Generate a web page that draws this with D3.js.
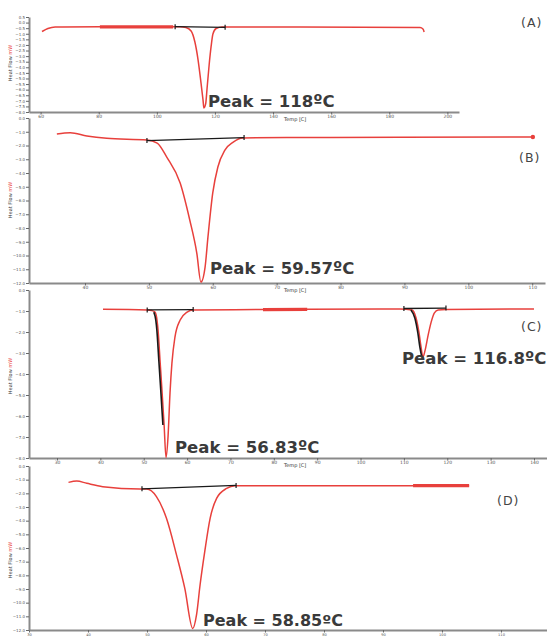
<!DOCTYPE html>
<html lang="en">
<head>
    <meta charset="UTF-8">
    <title>DSC thermograms</title>
    <script src="https://d3js.org/d3.v7.min.js"></script>
    <style>
        * { margin: 0; padding: 0; box-sizing: border-box; }
        body { background: #fff; overflow: hidden; }
        svg { display: block; }
        .tick text { font-family: 'DejaVu Sans', sans-serif; fill: #555; }
        .peak { font-family: 'DejaVu Sans', sans-serif; font-weight: bold; fill: #3a3a3a; }
        .tag { font-family: 'DejaVu Sans', sans-serif; fill: #444; letter-spacing: 1px; }
        .small { font-family: 'DejaVu Sans', sans-serif; fill: #333; }
    </style>
</head>
<body>
    <svg id="chart" width="547" height="637"></svg>

    <script>
    // temperatures (ºC) and heat flow (mW)
    const tempA = [60.5, 62.5, 65.0, 80.4, 108.0, 110.0, 111.8, 113.1, 114.2, 115.2, 115.9, 116.2, 116.8, 117.3, 118.0, 118.7, 119.3, 120.4, 122.4, 149.3, 190.6, 191.6, 192.0];
    const flowA = [-0.80, -0.53, -0.39, -0.38, -0.38, -0.44, -0.75, -1.74, -3.35, -5.40, -6.93, -7.64, -7.28, -5.85, -3.79, -2.09, -1.02, -0.53, -0.39, -0.39, -0.44, -0.57, -0.84];

    const tempB = [35.6, 37.7, 40.3, 43.4, 49.7, 51.3, 52.8, 54.9, 56.4, 57.5, 58.15, 58.8, 59.25, 60.0, 60.8, 61.9, 63.2, 64.7, 73.7, 89.3, 110.1];
    const flowB = [-1.16, -1.07, -1.31, -1.48, -1.60, -1.82, -2.84, -4.73, -7.42, -9.82, -11.93, -10.84, -8.65, -5.45, -3.56, -2.33, -1.75, -1.45, -1.42, -1.40, -1.38];

    const tempC = [40.6, 50.8, 51.9, 52.6, 53.06, 53.3, 53.75, 54.2, 54.7, 55.14, 55.6, 56.06, 56.5, 57.2, 58.4, 60.0, 61.4, 77.5, 87.7, 109.1, 111.9, 112.8, 113.5, 113.95, 114.4, 114.9, 115.6, 116.3, 117.0, 117.9, 119.7, 140.0];
    const flowC = [-0.92, -0.95, -0.98, -1.05, -1.43, -1.90, -3.33, -4.76, -6.43, -7.98, -7.0, -4.90, -3.48, -2.24, -1.43, -1.05, -0.95, -0.93, -0.92, -0.90, -0.95, -1.33, -2.05, -2.71, -3.19, -2.86, -2.14, -1.52, -1.10, -0.95, -0.93, -0.90];

    const tempD = [36.7, 38.1, 39.8, 42.5, 48.8, 49.95, 51.6, 53.3, 55.0, 56.4, 57.75, 58.4, 59.0, 59.8, 60.7, 61.8, 63.5, 64.9, 75.9, 104.6];
    const flowD = [-1.20, -1.10, -1.27, -1.51, -1.69, -1.69, -2.24, -3.83, -6.50, -8.94, -11.89, -10.88, -8.69, -6.23, -3.83, -2.37, -1.64, -1.44, -1.44, -1.44];

    // peak integration baselines [temp, flow]
    const baseA = [[[106.3, -0.37], [123.5, -0.42]]];
    const baseB = [[[49.7, -1.64], [64.9, -1.42]]];
    const baseC = [[[50.8, -0.95], [61.4, -0.93]], [[110.0, -0.88], [119.7, -0.86]]];
    const baseD = [[[49.15, -1.67], [65.1, -1.42]]];

    // highlighted (thicker) stretches of the trace
    const thickA = [[80.4, -0.38], [105.6, -0.38]];
    const thickC = [[77.5, -0.93], [87.7, -0.92]];
    const thickD = [[95.1, -1.44], [104.6, -1.44]];

    // parts of the trace drawn in black (temp ranges)
    const blackC = [[52.6, 54.7], [111.9, 114.4]];

    // axis ticks
    const xTicksA = [60, 80, 100, 120, 140, 160, 180, 200];
    const xTicksB = [40, 50, 60, 70, 80, 90, 100, 110];
    const xTicksC = [30, 40, 50, 60, 70, 80, 90, 100, 110, 120, 130, 140];
    const xTicksD = [30, 40, 50, 60, 70, 80, 90, 100, 110];
    const yTicksA = [-8, -7.5, -7, -6.5, -6, -5.5, -5, -4.5, -4, -3.5, -3, -2.5, -2, -1.5, -1, -0.5, 0, 0.5];
    const yTicksB = [-12, -11, -10, -9, -8, -7, -6, -5, -4, -3, -2, -1, 0];
    const yTicksC = [-8, -7, -6, -5, -4, -3, -2, -1, 0];
    const yTicksD = [-12, -11, -10, -9, -8, -7, -6, -5, -4, -3, -2, -1, 0];

    const peakLabels = {
        A: ["Peak = 118ºC"],
        B: ["Peak = 59.57ºC"],
        C: ["Peak = 56.83ºC", "Peak = 116.8ºC"],
        D: ["Peak = 58.85ºC"]
    };

    const RED = "#e8403c";
    const svg = d3.select("#chart");

    const panels = [
        { id: "A", temp: tempA, flow: flowA, base: baseA, thick: thickA, black: [],
          xDomain: [56, 204], yDomain: [-8, 0.5], xTicks: xTicksA, yTicks: yTicksA,
          left: 29, right: 459, top: 17, bottom: 112, xFont: 4.5, xTitle: true,
          labels: [[208, 107, 16.5]], tag: [521, 27], endDot: false, yTitle: 63 },
        { id: "B", temp: tempB, flow: flowB, base: baseB, thick: null, black: [],
          xDomain: [31.24, 112.0], yDomain: [-12, 0], xTicks: xTicksB, yTicks: yTicksB,
          left: 29, right: 545, top: 118, bottom: 283, xFont: 4.5, xTitle: true,
          labels: [[210, 274, 16.5]], tag: [519, 162], endDot: true, yTitle: 200 },
        { id: "C", temp: tempC, flow: flowC, base: baseC, thick: thickC, black: blackC,
          xDomain: [23.54, 143.0], yDomain: [-8, 0], xTicks: xTicksC, yTicks: yTicksC,
          left: 29, right: 547, top: 290, bottom: 458, xFont: 4.5, xTitle: true,
          labels: [[175, 453, 16.5], [402, 364, 16.5]], tag: [521, 331], endDot: false, yTitle: 376 },
        { id: "D", temp: tempD, flow: flowD, base: baseD, thick: thickD, black: [],
          xDomain: [30, 117.8], yDomain: [-12, 0], xTicks: xTicksD, yTicks: yTicksD,
          left: 29, right: 547, top: 466, bottom: 630, xFont: 3.6, xTitle: false,
          labels: [[203, 626, 16]], tag: [497, 505], endDot: false, yTitle: 560 }
    ];

    function drawPanel(p) {
        const g = svg.append("g").attr("class", "panel-" + p.id);
        const x = d3.scaleLinear().domain(p.xDomain).range([p.left, p.right]);
        const y = d3.scaleLinear().domain(p.yDomain).range([p.bottom, p.top]);

        // axes
        const xAxis = d3.axisBottom(x).tickValues(p.xTicks).tickSize(2.5).tickSizeOuter(0).tickPadding(0.5);
        const gx = g.append("g").attr("transform", `translate(0,${p.bottom})`).call(xAxis);
        gx.selectAll("text").style("font-size", p.xFont + "px");

        const yAxis = d3.axisLeft(y).tickValues(p.yTicks).tickSize(3).tickSizeOuter(0).tickPadding(1)
            .tickFormat(d3.format(".1f"));
        const gy = g.append("g").attr("transform", `translate(${p.left},0)`).call(yAxis);
        gy.selectAll("text").style("font-size", "4px");

        [gx, gy].forEach(a => {
            a.select(".domain").attr("stroke", "#8a8a8a").attr("stroke-width", 2);
            a.selectAll(".tick line").attr("stroke", "#666");
        });

        // axis titles
        if (p.xTitle) {
            g.append("text").attr("class", "small")
                .attr("x", 284).attr("y", p.bottom + 9)
                .style("font-size", "5px")
                .text("Temp [C]");
        }

        const yt = g.append("text").attr("class", "small")
            .attr("transform", `translate(12,${p.yTitle}) rotate(-90)`)
            .attr("text-anchor", "middle")
            .style("font-size", "5px");
        yt.append("tspan").text("Heat Flow ");
        yt.append("tspan").attr("fill", RED).text("mW");

        const line = d3.line()
            .x(d => x(d[0]))
            .y(d => y(d[1]))
            .curve(d3.curveMonotoneX);

        const pts = p.temp.map((t, i) => [t, p.flow[i]]);

        if (p.thick) {
            g.append("path").datum(p.thick)
                .attr("d", d3.line().x(d => x(d[0])).y(d => y(d[1])))
                .attr("fill", "none").attr("stroke", RED).attr("stroke-width", 3.2);
        }

        g.append("path").datum(pts)
            .attr("d", line)
            .attr("fill", "none")
            .attr("stroke", RED)
            .attr("stroke-width", 1.5)
            .attr("stroke-linejoin", "round");

        p.black.forEach(r => {
            const part = pts.filter(d => d[0] >= r[0] && d[0] <= r[1]);
            g.append("path").datum(part)
                .attr("d", line)
                .attr("transform", "translate(-1.2,0)")
                .attr("fill", "none").attr("stroke", "#1a1a1a").attr("stroke-width", 1.6);
        });

        // integration baselines with end marks
        p.base.forEach(seg => {
            g.append("line")
                .attr("x1", x(seg[0][0])).attr("y1", y(seg[0][1]))
                .attr("x2", x(seg[1][0])).attr("y2", y(seg[1][1]))
                .attr("stroke", "#1a1a1a").attr("stroke-width", 1.3);
            seg.forEach(e => {
                g.append("line")
                    .attr("x1", x(e[0])).attr("x2", x(e[0]))
                    .attr("y1", y(e[1]) - 2.5).attr("y2", y(e[1]) + 2.5)
                    .attr("stroke", "#1a1a1a").attr("stroke-width", 1.2);
            });
        });

        if (p.endDot) {
            const last = pts[pts.length - 1];
            g.append("circle").attr("cx", x(last[0])).attr("cy", y(last[1]))
                .attr("r", 2.2).attr("fill", RED);
        }

        peakLabels[p.id].forEach((txt, i) => {
            const l = p.labels[i];
            g.append("text").attr("class", "peak")
                .attr("x", l[0]).attr("y", l[1])
                .style("font-size", l[2] + "px")
                .text(txt);
        });

        g.append("text").attr("class", "tag")
            .attr("x", p.tag[0]).attr("y", p.tag[1])
            .style("font-size", "12.5px")
            .text("(" + p.id + ")");
    }

    panels.forEach(drawPanel);
    </script>
</body>
</html>
